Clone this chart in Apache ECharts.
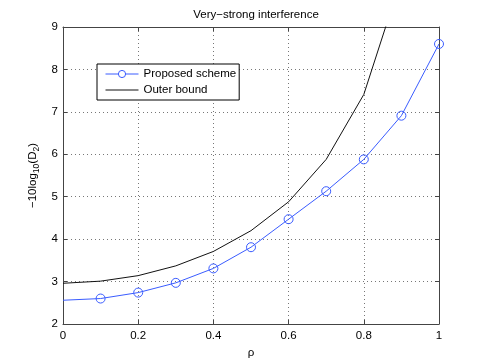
<!DOCTYPE html>
<html>
<head>
<meta charset="utf-8">
<script src="https://cdn.jsdelivr.net/npm/echarts@6/dist/echarts.min.js"></script>
<style>
html,body{margin:0;padding:0;background:#fff;}
#c{width:485px;height:364px;}
</style>
</head>
<body>
<div id="c"></div>
<script>
var rho = [0, 0.1, 0.2, 0.3, 0.4, 0.5, 0.6, 0.7, 0.8, 0.9, 1.0];
var proposed = [2.56, 2.60, 2.74, 2.97, 3.31, 3.81, 4.47, 5.13, 5.88, 6.91, 8.60];
var outerRho = [0, 0.1, 0.2, 0.3, 0.4, 0.5, 0.6, 0.7, 0.8, 0.9];
var outer = [2.96, 3.01, 3.14, 3.37, 3.71, 4.20, 4.88, 5.88, 7.41, 10.15];
var xTicks = [0, 0.2, 0.4, 0.6, 0.8, 1];
var yTicks = [2, 3, 4, 5, 6, 7, 8, 9];

var FONT = '"Liberation Sans", Arial, Helvetica, sans-serif';
var FS = 11.5;
var axisCol = '#444';
var BLUE = '#3a5cff';

var propData = rho.map(function (r, i) {
  var d = { value: [r, proposed[i]] };
  if (i === 0) d.symbol = 'none';
  return d;
});
var outerData = outerRho.map(function (r, i) { return [r, outer[i]]; });

var chart = echarts.init(document.getElementById('c'), null, { renderer: 'canvas' });
var grid = { left: 63, right: 46, top: 27, bottom: 40, containLabel: false };

function xAx(pos, show) {
  return {
    type: 'value', min: xTicks[0], max: xTicks[xTicks.length - 1], interval: 0.2, position: pos,
    axisLine: { show: true, onZero: false, lineStyle: { color: axisCol, width: 1 } },
    axisTick: { show: true, inside: true, length: 4, lineStyle: { color: axisCol } },
    axisLabel: { show: show, color: '#000', fontFamily: FONT, fontSize: FS, margin: 6,
      formatter: function (v) { return String(Math.round(v * 10) / 10); } },
    splitLine: { show: show, lineStyle: { color: '#777', type: [1, 3], width: 1 } },
    name: show ? 'ρ' : '', nameLocation: 'middle', nameGap: 12,
    nameTextStyle: { color: '#000', fontFamily: FONT, fontSize: FS }
  };
}
function yAx(pos, show) {
  return {
    type: 'value', min: yTicks[0], max: yTicks[yTicks.length - 1], interval: 1, position: pos,
    axisLine: { show: true, onZero: false, lineStyle: { color: axisCol, width: 1 } },
    axisTick: { show: true, inside: true, length: 4, lineStyle: { color: axisCol } },
    axisLabel: { show: show, color: '#000', fontFamily: FONT, fontSize: FS, margin: 5 },
    splitLine: { show: show, lineStyle: { color: '#777', type: [1, 3], width: 1 } },
    name: show ? '−10log{sub|10}(D{sub|2})' : '', nameLocation: 'middle', nameGap: 18, nameRotate: 90,
    nameTextStyle: { color: '#000', fontFamily: FONT, fontSize: FS,
      rich: { sub: { fontSize: 8.5, fontFamily: FONT, color: '#000', verticalAlign: 'bottom', padding: [6, 0, 0, 0] } } }
  };
}

chart.setOption({
  animation: false,
  backgroundColor: '#fff',
  title: {
    text: 'Very−strong interference', left: 251, top: 4, textAlign: 'center',
    textStyle: { fontFamily: FONT, fontSize: FS, fontWeight: 'normal', color: '#000' }
  },
  grid: grid,
  xAxis: [xAx('bottom', true), xAx('top', false)],
  yAxis: [yAx('left', true), yAx('right', false)],
  legend: {
    orient: 'vertical', left: 97, top: 64,
    backgroundColor: '#fff', borderColor: '#000', borderWidth: 1, borderRadius: 0,
    padding: [4, 3, 4, 8], itemWidth: 33, itemHeight: 9, itemGap: 4,
    textStyle: { fontFamily: FONT, fontSize: FS, color: '#000', lineHeight: 12 },
    data: [
      { name: 'Proposed scheme', lineStyle: { width: 1, color: BLUE },
        itemStyle: { color: '#fff', borderColor: BLUE, borderWidth: 1 } },
      { name: 'Outer bound', lineStyle: { width: 1, color: '#111' },
        itemStyle: { opacity: 0 } }
    ]
  },
  series: [
    {
      name: 'Proposed scheme', type: 'line', data: propData,
      symbol: 'circle', symbolSize: 9, showSymbol: true,
      itemStyle: { color: 'transparent', borderColor: BLUE, borderWidth: 1 },
      lineStyle: { color: BLUE, width: 1 },
      color: BLUE, clip: true, z: 3
    },
    {
      name: 'Outer bound', type: 'line', data: outerData,
      symbol: 'none', showSymbol: false,
      lineStyle: { color: '#111', width: 1 },
      itemStyle: { color: '#111' },
      color: '#111', clip: true, z: 2
    }
  ]
});
</script>
</body>
</html>
